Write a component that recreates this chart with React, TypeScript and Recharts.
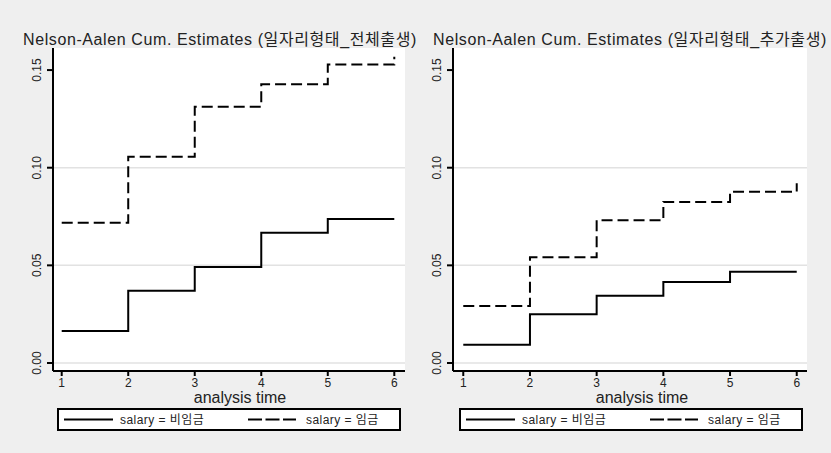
import React from "react"
import { LineChart, Line, XAxis, YAxis, CartesianGrid } from "recharts"

// analysis time (years)
const times = [1, 2, 3, 4, 5, 6]
// Nelson-Aalen cumulative hazard, 전체출생
const totalNonWage = [0.0164, 0.037, 0.0491, 0.0667, 0.0737, 0.0737]
const totalWage = [0.0718, 0.1056, 0.1312, 0.1428, 0.1529, 0.1568]
// Nelson-Aalen cumulative hazard, 추가출생
const addNonWage = [0.0094, 0.025, 0.0344, 0.0415, 0.0467, 0.0467]
const addWage = [0.0292, 0.0542, 0.0731, 0.0825, 0.0877, 0.092]

const yTicks = [0, 0.05, 0.1, 0.15]
const gridValues = [0, 0.05, 0.1]
const titles = [
  "Nelson-Aalen Cum. Estimates (일자리형태_전체출생)",
  "Nelson-Aalen Cum. Estimates (일자리형태_추가출생)",
]
const legendLabels = ["salary = 비임금", "salary = 임금"]

const FONT = '"Liberation Sans", Arial, "Noto Sans CJK KR", sans-serif'
const BG = "#efefef"

const rows = (a: number[], b: number[]) => times.map((t, i) => ({ t, nonWage: a[i], wage: b[i] }))

function YTick(props: any) {
  const { x, y, payload } = props
  const cx = x - 8
  return (
    <text
      x={cx}
      y={y}
      transform={`rotate(-90, ${cx}, ${y})`}
      textAnchor="middle"
      dominantBaseline="central"
      fontSize={12}
      fontFamily={FONT}
      fill="#222"
    >
      {Number(payload.value).toFixed(2)}
    </text>
  )
}

function Panel({
  data,
  width,
  yWidth,
  right,
  xDomain,
}: {
  data: { t: number; nonWage: number; wage: number }[]
  width: number
  yWidth: number
  right: number
  xDomain: [number, number]
}) {
  return (
    <LineChart width={width} height={453} data={data} margin={{ top: 48, right, bottom: 0, left: 0 }}>
      <CartesianGrid vertical={false} horizontalValues={gridValues} stroke="#e2e2e2" strokeWidth={1.5} fill="#ffffff" />
      <XAxis
        dataKey="t"
        type="number"
        domain={xDomain}
        ticks={times}
        height={82}
        allowDataOverflow
        stroke="#000"
        strokeWidth={2}
        tickSize={5}
        tickLine={{ stroke: "#000", strokeWidth: 2 }}
        tick={{ fontSize: 12, fontFamily: FONT, fill: "#222" }}
      />
      <YAxis
        type="number"
        domain={[-0.0041, 0.1613]}
        ticks={yTicks}
        width={yWidth}
        allowDataOverflow
        stroke="#000"
        strokeWidth={2}
        tickSize={6}
        tickLine={{ stroke: "#000", strokeWidth: 2 }}
        tick={<YTick />}
      />
      <Line type="stepAfter" dataKey="nonWage" stroke="#000" strokeWidth={2} dot={false} isAnimationActive={false} />
      <Line
        type="stepAfter"
        dataKey="wage"
        stroke="#000"
        strokeWidth={2}
        strokeDasharray="11 5"
        dot={false}
        isAnimationActive={false}
      />
    </LineChart>
  )
}

function Legend({ x }: { x: number }) {
  const y = 409
  return (
    <g>
      <rect x={x} y={y} width={342} height={21} fill="#fff" stroke="#000" strokeWidth={2} />
      <line x1={x + 6} x2={x + 55} y1={y + 10.5} y2={y + 10.5} stroke="#000" strokeWidth={2} />
      <text x={x + 62} y={y + 15} fontSize={12} letterSpacing={0.45} fontFamily={FONT} fill="#222">
        {legendLabels[0]}
      </text>
      <line
        x1={x + 190}
        x2={x + 238}
        y1={y + 10.5}
        y2={y + 10.5}
        stroke="#000"
        strokeWidth={2}
        strokeDasharray="14 3.5"
      />
      <text x={x + 248} y={y + 15} fontSize={12} letterSpacing={0.45} fontFamily={FONT} fill="#222">
        {legendLabels[1]}
      </text>
    </g>
  )
}

export default function App() {
  return (
    <div style={{ position: "absolute", left: 0, top: 0, width: 831, height: 453, background: BG, overflow: "hidden" }}>
      <div style={{ position: "absolute", left: 0, top: 0 }}>
        <Panel data={rows(totalNonWage, totalWage)} width={415} yWidth={53} right={10} xDomain={[0.869, 6.161]} />
      </div>
      <div style={{ position: "absolute", left: 415, top: 0 }}>
        <Panel data={rows(addNonWage, addWage)} width={416} yWidth={38} right={24} xDomain={[0.846, 6.154]} />
      </div>
      <svg width={831} height={453} style={{ position: "absolute", left: 0, top: 0, pointerEvents: "none" }}>
        <text x={23} y={45} fontSize={16} letterSpacing={0.6} fontFamily={FONT} fill="#222">
          {titles[0]}
        </text>
        <text x={433} y={45} fontSize={16} letterSpacing={0.6} fontFamily={FONT} fill="#222">
          {titles[1]}
        </text>
        <text x={240} y={403} textAnchor="middle" fontSize={16} fontFamily={FONT} fill="#222">
          analysis time
        </text>
        <text x={642} y={403} textAnchor="middle" fontSize={16} fontFamily={FONT} fill="#222">
          analysis time
        </text>
        <Legend x={58} />
        <Legend x={460} />
      </svg>
    </div>
  )
}
